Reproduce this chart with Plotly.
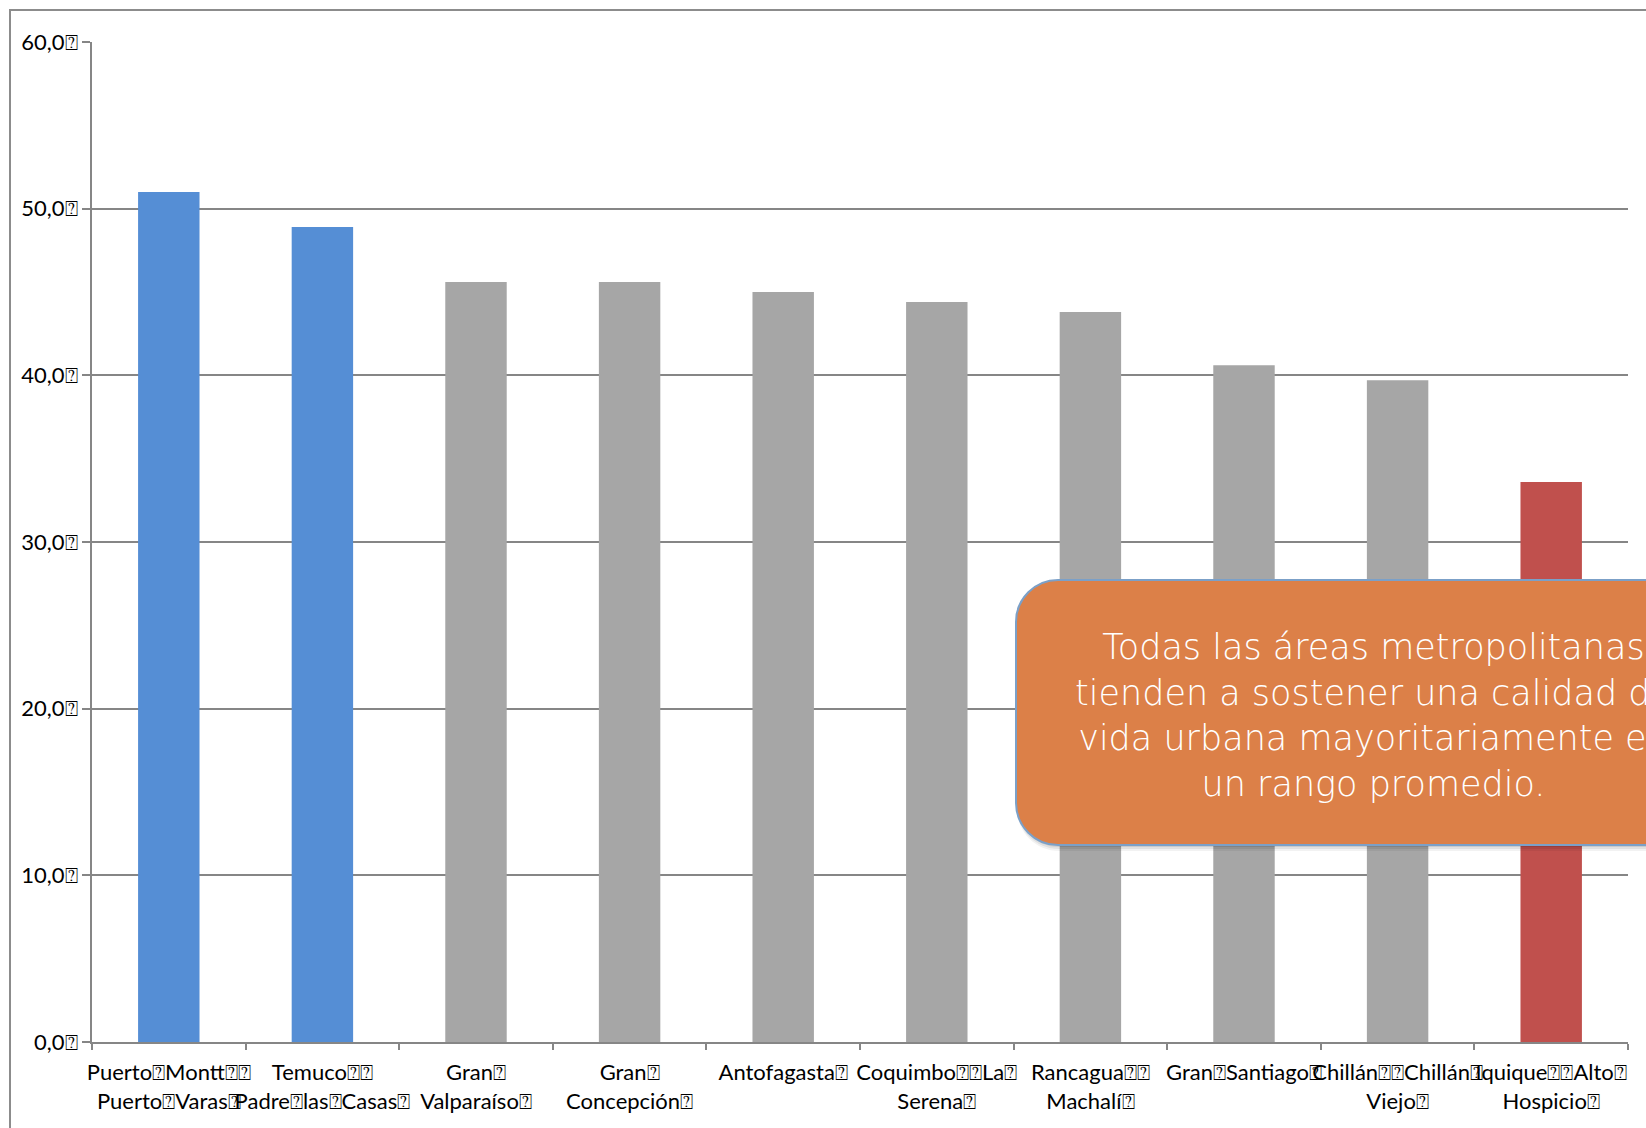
import plotly.graph_objects as go

Q = "\u2370"  # box-with-question-mark glyph seen in the reference labels

categories = [
    f"Puerto{Q}Montt{Q}{Q}<br>Puerto{Q}Varas{Q}",
    f"Temuco{Q}{Q}<br>Padre{Q}las{Q}Casas{Q}",
    f"Gran{Q}<br>Valparaíso{Q}",
    f"Gran{Q}<br>Concepción{Q}",
    f"Antofagasta{Q}",
    f"Coquimbo{Q}{Q}La{Q}<br>Serena{Q}",
    f"Rancagua{Q}{Q}<br>Machalí{Q}",
    f"Gran{Q}Santiago{Q}",
    f"Chillán{Q}{Q}Chillán{Q}<br>Viejo{Q}",
    f"Iquique{Q}{Q}Alto{Q}<br>Hospicio{Q}",
]
values = [51.0, 48.9, 45.6, 45.6, 45.0, 44.4, 43.8, 40.6, 39.7, 33.6]
bar_colors = ["#558ED5", "#558ED5", "#A6A6A6", "#A6A6A6", "#A6A6A6",
              "#A6A6A6", "#A6A6A6", "#A6A6A6", "#A6A6A6", "#C0504D"]
y_tickvals = [0, 10, 20, 30, 40, 50, 60]
y_ticktext = [f"{v},0{Q}" for v in y_tickvals]
note_text = ("Todas las áreas metropolitanas<br>tienden a sostener una calidad de<br>"
             "vida urbana mayoritariamente en<br>un rango promedio.")

W, H = 1646, 1128
L, R, T, B = 92, 18, 42, 86
PW, PH = W - L - R, H - T - B


def px(x):
    return (x - L) / PW


def py(y):
    return (H - B - y) / PH


def rounded_rect(x0, y0, x1, y1, r):
    k = 0.5523 * r
    pts = []
    pts.append(f"M {px(x0 + r)},{py(y0)}")
    pts.append(f"L {px(x1 - r)},{py(y0)}")
    pts.append(f"C {px(x1 - r + k)},{py(y0)} {px(x1)},{py(y0 + r - k)} {px(x1)},{py(y0 + r)}")
    pts.append(f"L {px(x1)},{py(y1 - r)}")
    pts.append(f"C {px(x1)},{py(y1 - r + k)} {px(x1 - r + k)},{py(y1)} {px(x1 - r)},{py(y1)}")
    pts.append(f"L {px(x0 + r)},{py(y1)}")
    pts.append(f"C {px(x0 + r - k)},{py(y1)} {px(x0)},{py(y1 - r + k)} {px(x0)},{py(y1 - r)}")
    pts.append(f"L {px(x0)},{py(y0 + r)}")
    pts.append(f"C {px(x0)},{py(y0 + r - k)} {px(x0 + r - k)},{py(y0)} {px(x0 + r)},{py(y0)}")
    pts.append("Z")
    return " ".join(pts)


fig = go.Figure(go.Bar(
    x=categories, y=values, marker=dict(color=bar_colors, line=dict(width=0)),
))

shapes = [
    dict(type="rect", xref="paper", yref="paper", x0=px(10), x1=px(1720),
         y0=py(1200), y1=py(10), line=dict(color="#8C8C8C", width=2),
         fillcolor="rgba(0,0,0,0)", layer="below"),
]
bx0, by0, bx1, by1, rad = 1016, 580, 1730, 845, 42
for dx, dy, a in [(1, 6, 0.05), (1, 4, 0.07), (1, 2, 0.09)]:
    shapes.append(dict(type="path", xref="paper", yref="paper",
                       path=rounded_rect(bx0 + dx, by0 + dy, bx1 + dx, by1 + dy, rad),
                       fillcolor=f"rgba(0,0,0,{a})", line=dict(width=0), layer="above"))
shapes.append(dict(type="path", xref="paper", yref="paper",
                   path=rounded_rect(bx0, by0, bx1, by1, rad),
                   fillcolor="#DC8048", line=dict(color="#7BA0C8", width=2), layer="above"))

fig.update_layout(
    width=W, height=H,
    margin=dict(l=L, r=R, t=T, b=B),
    paper_bgcolor="white", plot_bgcolor="white",
    bargap=0.6, showlegend=False,
    font=dict(family="Lato, Open Sans, sans-serif", size=22, color="#000000"),
    xaxis=dict(
        type="category", range=[-0.5, 9.5], tickson="boundaries",
        ticks="outside", ticklen=6, tickwidth=2, tickcolor="#868686",
        showline=True, linecolor="#868686", linewidth=2,
        showgrid=False, tickangle=0, tickfont=dict(size=22),
        ticklabelstandoff=10,
    ),
    yaxis=dict(
        range=[0, 60], tickvals=y_tickvals, ticktext=y_ticktext,
        ticks="outside", ticklen=8, tickwidth=2, tickcolor="#868686",
        showline=True, linecolor="#868686", linewidth=2,
        showgrid=True, gridcolor="#868686", gridwidth=2, zeroline=False,
        tickfont=dict(size=22),
    ),
    shapes=shapes,
    annotations=[dict(
        xref="paper", yref="paper", x=px(1373), y=py(715),
        xanchor="center", yanchor="middle", showarrow=False, align="center",
        text=note_text,
        font=dict(family="DejaVu Sans, sans-serif", size=35, color="white", weight=200),
    )],
)

fig.write_html(
    "out.html",
    config={"displayModeBar": False},
    post_script="document.body.style.margin='0';document.body.style.overflow='hidden';",
)
